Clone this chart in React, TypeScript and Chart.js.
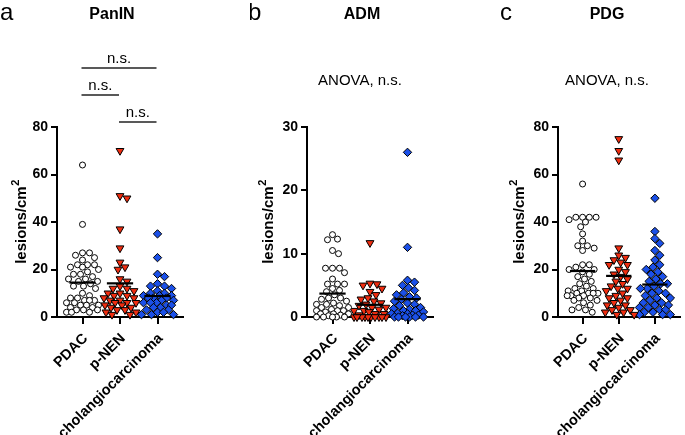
import React, { useEffect, useRef } from "react";
import { Chart, registerables } from "chart.js";

Chart.register(...registerables);

const GROUPS = ["PDAC", "p-NEN", "cholangiocarcinoma"];

// Panel a – PanIN, lesions/cm²
const PANIN_PDAC = [64, 39, 27, 27, 26, 25, 24, 22, 22, 22, 21, 21, 20, 19, 18, 18, 17, 16, 16, 15, 15, 14, 13, 13, 12, 10, 9, 8, 8, 7, 7, 7, 6, 6, 5, 5, 5, 4, 4, 3, 3, 3, 2, 2, 2];
const PANIN_PNEN = [70, 51, 50, 37, 29, 23, 21, 20, 16, 15, 13, 12, 12, 11, 10, 10, 9, 9, 8, 8, 7, 7, 6, 6, 6, 5, 5, 4, 4, 3, 3, 2, 2, 1, 1];
const PANIN_CHOL = [35, 25, 18, 17, 14, 13, 13, 12, 11, 10, 10, 9, 9, 9, 8, 8, 8, 7, 7, 6, 6, 6, 5, 5, 4, 4, 3, 3, 2, 2, 1, 1, 1];

// Panel b – ADM, lesions/cm²
const ADM_PDAC = [13, 12.3, 12.2, 10.5, 10, 7.7, 7.7, 7.7, 7, 6, 5.2, 5.2, 5.2, 4.5, 4.2, 4, 3.5, 3, 3, 2.8, 2.5, 2.2, 2, 2, 1.8, 1.5, 1.5, 1.2, 1, 1, 1, 0.8, 0.5, 0.5, 0.5, 0.3, 0.2, 0, 0, 0, 0, 0];
const ADM_PNEN = [11.7, 5.3, 5.2, 5.0, 4.5, 4.0, 3.5, 3.0, 2.8, 2.5, 2.2, 2.0, 1.8, 1.5, 1.5, 1.2, 1.0, 1.0, 0.8, 0.5, 0.5, 0.3, 0, 0, 0, 0, 0, 0, 0, 0, 0, 0];
const ADM_CHOL = [26, 11, 5.8, 5.5, 5, 4.6, 4.2, 3.8, 3.5, 3.2, 3, 2.8, 2.5, 2.2, 2, 1.8, 1.5, 1.3, 1.2, 1, 1, 0.8, 0.6, 0.5, 0.5, 0.3, 0.3, 0.2, 0, 0, 0, 0, 0, 0];

// Panel c – PDG, lesions/cm²
const PDG_PDAC = [56, 42, 42, 42, 42, 41, 40, 38, 35, 32, 30, 30, 29, 28, 22, 22, 21, 20, 20, 19, 18, 17, 16, 15, 14, 13, 12, 12, 11, 11, 10, 10, 10, 10, 9, 9, 9, 8, 8, 7, 7, 6, 5, 4, 3, 3, 2];
const PDG_PNEN = [75, 70, 66, 29, 26, 25, 24, 23, 22, 22, 20, 19, 18, 17, 16, 15, 14, 13, 12, 12, 11, 10, 9, 8, 8, 7, 6, 5, 5, 4, 3, 3, 2, 2, 1, 1];
const PDG_CHOL = [50, 36, 33, 31, 28, 26, 24, 22, 21, 20, 19, 18, 17, 16, 15, 14, 14, 13, 12, 12, 11, 10, 10, 9, 8, 8, 7, 6, 6, 5, 5, 4, 4, 3, 3, 2, 2, 1, 1, 1];

const Y_TICKS_A = [0, 20, 40, 60, 80];
const Y_TICKS_B = [0, 10, 20, 30];
const Y_TICKS_C = [0, 20, 40, 60, 80];

const FONT = "'Liberation Sans', Arial, Helvetica, sans-serif";
const CANVAS_H = 435;
const PLOT_TOP = 127;
const PLOT_BOTTOM = 317;
const PLOT_H = PLOT_BOTTOM - PLOT_TOP;
const Y_AXIS_W = 57;
const PLOT_W = 126;
const X_MIN = -0.68;
const X_MAX = 2.68;
const X_PX = PLOT_W / (X_MAX - X_MIN);
const RED = "#f02d10";
const BLUE = "#1b50e8";

type Panel = {
  left: number;
  width: number;
  letter: string;
  letterX: number;
  title: string;
  titleX: number;
  yTicks: number[];
  series: number[][];
  anovaX: number | null;
  yTitleOffset: number;
  brackets: boolean;
};

const PANELS: Panel[] = [
  { left: 0, width: 240, letter: "a", letterX: 0, title: "PanIN", titleX: 112, yTicks: Y_TICKS_A, series: [PANIN_PDAC, PANIN_PNEN, PANIN_CHOL], anovaX: null, yTitleOffset: 37, brackets: true },
  { left: 250, width: 240, letter: "b", letterX: 248, title: "ADM", titleX: 362, yTicks: Y_TICKS_B, series: [ADM_PDAC, ADM_PNEN, ADM_CHOL], anovaX: 360, yTitleOffset: 40, brackets: false },
  { left: 501, width: 184, letter: "c", letterX: 500, title: "PDG", titleX: 607, yTicks: Y_TICKS_C, series: [PDG_PDAC, PDG_PNEN, PDG_CHOL], anovaX: 607, yTitleOffset: 40, brackets: false },
];

function mean(v: number[]) {
  return v.reduce((a, b) => a + b, 0) / v.length;
}

// deterministic beeswarm layout (pixel based) for horizontal spread
function swarm(values: number[], yMax: number, center: number) {
  const pxY = PLOT_H / yMax;
  const D = 6.5;
  const LIMIT = 16;
  const placed: { px: number; py: number }[] = [];
  const out: { x: number; y: number }[] = [];
  const order = values.map((_, i) => i).sort((a, b) => values[b] - values[a]);
  for (const i of order) {
    const py = values[i] * pxY;
    let best = 0;
    let bestScore = -1;
    for (let k = 0; k <= 2 * LIMIT; k++) {
      const off = k === 0 ? 0 : k % 2 === 1 ? (k + 1) / 2 : -k / 2;
      let minD = Infinity;
      for (const p of placed) {
        const d = Math.hypot(p.px - off, p.py - py);
        if (d < minD) minD = d;
      }
      if (minD >= D) {
        best = off;
        break;
      }
      if (minD > bestScore) {
        bestScore = minD;
        best = off;
      }
    }
    placed.push({ px: best, py });
    out.push({ x: center + best / X_PX, y: values[i] });
  }
  return out;
}

const MARKERS = [
  { style: "circle", radius: 3.0, bg: "#ffffff", rotation: 0 },
  { style: "triangle", radius: 4.5, bg: RED, rotation: 180 },
  { style: "rectRot", radius: 4.2, bg: BLUE, rotation: 0 },
];

function buildConfig(p: Panel): any {
  const yMax = p.yTicks[p.yTicks.length - 1];
  const datasets: any[] = [];
  p.series.forEach((vals, i) => {
    const mk = MARKERS[i];
    datasets.push({
      type: "scatter",
      data: swarm(vals, yMax, i),
      pointStyle: mk.style,
      pointRadius: mk.radius,
      pointBackgroundColor: mk.bg,
      pointBorderColor: "#000",
      pointBorderWidth: 1,
      pointRotation: mk.rotation,
      showLine: false,
      clip: false,
      order: 2,
    });
    const m = mean(vals);
    datasets.push({
      type: "scatter",
      data: [{ x: i - 0.35, y: m }, { x: i + 0.35, y: m }],
      showLine: true,
      borderColor: "#000",
      borderWidth: 2.2,
      pointRadius: 0,
      clip: false,
      order: 0,
    });
  });

  const textPlugin = {
    id: "panelTexts",
    afterDraw(chart: any) {
      const ctx = chart.ctx;
      const ca = chart.chartArea;
      const L = p.left;
      ctx.save();
      ctx.fillStyle = "#000";
      ctx.strokeStyle = "#000";
      // panel letter
      ctx.font = `24px ${FONT}`;
      ctx.textAlign = "left";
      ctx.textBaseline = "alphabetic";
      ctx.fillText(p.letter, p.letterX - L, 20);
      // title
      ctx.font = `bold 16px ${FONT}`;
      ctx.textAlign = "center";
      ctx.fillText(p.title, p.titleX - L, 19);
      // anova
      ctx.font = `15px ${FONT}`;
      if (p.anovaX !== null) ctx.fillText("ANOVA, n.s.", p.anovaX - L, 85);
      if (p.brackets) {
        const xs = chart.scales.x;
        const bars = [
          { a: 0, b: 2, y: 68 },
          { a: 0, b: 1, y: 95 },
          { a: 1, b: 2, y: 122 },
        ];
        ctx.lineWidth = 1.3;
        ctx.strokeStyle = "#222";
        bars.forEach((br) => {
          const x1 = xs.getPixelForValue(br.a) - 1;
          const x2 = xs.getPixelForValue(br.b) - 1;
          ctx.beginPath();
          ctx.moveTo(x1, br.y);
          ctx.lineTo(x2, br.y);
          ctx.stroke();
          ctx.fillText("n.s.", (x1 + x2) / 2, br.y - 5);
        });
      }
      // y axis title with superscript
      ctx.translate(ca.left - p.yTitleOffset, (ca.top + ca.bottom) / 2);
      ctx.rotate(-Math.PI / 2);
      ctx.font = `bold 15px ${FONT}`;
      const main = "lesions/cm";
      const wMain = ctx.measureText(main).width;
      ctx.font = `bold 11px ${FONT}`;
      const wSup = ctx.measureText("2").width;
      const start = -(wMain + wSup) / 2;
      ctx.textAlign = "left";
      ctx.textBaseline = "alphabetic";
      ctx.font = `bold 15px ${FONT}`;
      ctx.fillText(main, start, 6);
      ctx.font = `bold 11px ${FONT}`;
      ctx.fillText("2", start + wMain + 0.5, -1);
      ctx.restore();
    },
  };

  return {
    type: "scatter",
    data: { datasets },
    plugins: [textPlugin],
    options: {
      responsive: false,
      animation: false,
      events: [],
      layout: { padding: { top: PLOT_TOP, right: p.width - Y_AXIS_W - PLOT_W, bottom: 0, left: 0 } },
      plugins: { legend: { display: false }, tooltip: { enabled: false }, title: { display: false } },
      scales: {
        x: {
          type: "linear",
          min: X_MIN,
          max: X_MAX,
          afterBuildTicks: (s: any) => {
            s.ticks = GROUPS.map((_, i) => ({ value: i }));
          },
          afterFit: (s: any) => {
            s.height = CANVAS_H - PLOT_BOTTOM;
          },
          ticks: {
            autoSkip: false,
            minRotation: 45,
            maxRotation: 45,
            padding: 6,
            labelOffset: 3,
            color: "#000",
            font: { family: FONT, size: 14.5, weight: "bold" },
            callback: (v: any) => GROUPS[v] ?? "",
          },
          grid: { display: true, drawOnChartArea: false, drawTicks: true, tickLength: 7, color: "#000", lineWidth: 2 },
          border: { display: true, color: "#000", width: 2 },
        },
        y: {
          type: "linear",
          min: 0,
          max: yMax,
          afterBuildTicks: (s: any) => {
            s.ticks = p.yTicks.map((v) => ({ value: v }));
          },
          afterFit: (s: any) => {
            s.width = Y_AXIS_W;
          },
          ticks: {
            padding: 3,
            color: "#000",
            font: { family: FONT, size: 14, weight: "bold" },
          },
          grid: { display: true, drawOnChartArea: false, drawTicks: true, tickLength: 6, color: "#000", lineWidth: 2 },
          border: { display: true, color: "#000", width: 2 },
        },
      },
    },
  };
}

function PanelChart({ panel }: { panel: Panel }) {
  const ref = useRef<HTMLCanvasElement>(null);
  useEffect(() => {
    const chart = new Chart(ref.current as HTMLCanvasElement, buildConfig(panel));
    return () => chart.destroy();
  }, [panel]);
  return (
    <canvas
      ref={ref}
      width={panel.width}
      height={CANVAS_H}
      style={{ position: "absolute", left: panel.left, top: 0, width: panel.width, height: CANVAS_H }}
    />
  );
}

export default function App() {
  return (
    <div style={{ position: "absolute", left: 0, top: 0, width: 685, height: 435, background: "#fff", overflow: "hidden" }}>
      {PANELS.map((p) => (
        <PanelChart key={p.letter} panel={p} />
      ))}
    </div>
  );
}
